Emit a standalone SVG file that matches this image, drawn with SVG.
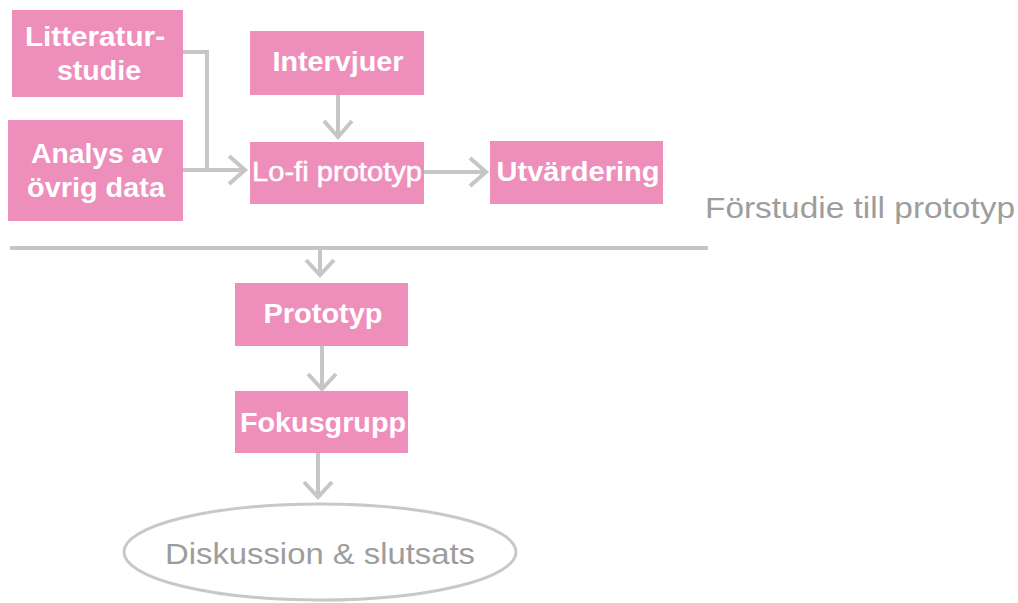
<svg xmlns="http://www.w3.org/2000/svg" width="1018" height="603" viewBox="0 0 1018 603">
<style>
.box{fill:#ee8fbb}
.t{font-family:"Liberation Sans",Arial,sans-serif;font-size:27px;font-weight:bold;fill:#fff;text-anchor:middle}
.tn{font-weight:normal}
.c{fill:none;stroke:#c6c6c6;stroke-width:4}
.g{font-family:"Liberation Sans",Arial,sans-serif;font-size:30px;fill:#9d9d9d}
</style>
<rect width="1018" height="603" fill="#fff"/>
<g id="connectors" class="c">
<polyline points="183,52 207,52 207,170"/>
<line x1="183" y1="170" x2="245" y2="170"/>
<polyline points="229,156 245,170 229,184"/>
<line x1="338" y1="95" x2="338" y2="137"/>
<polyline points="324,121 338,137 352,121"/>
<line x1="424" y1="172" x2="486" y2="172"/>
<polyline points="470,158 486,172 470,186"/>
<line x1="320" y1="248" x2="320" y2="275"/>
<polyline points="306,260 320,275 334,260"/>
<line x1="322" y1="346" x2="322" y2="389"/>
<polyline points="308,374 322,389 336,374"/>
<line x1="318" y1="453" x2="318" y2="497"/>
<polyline points="304,482 318,497 332,482"/>
</g>
<line id="divider" x1="10" y1="248" x2="708" y2="248" class="c"/>
<g id="litteratur"><rect class="box" x="12" y="10" width="171" height="87"/><text class="t" x="95" y="46" textLength="140" lengthAdjust="spacingAndGlyphs">Litteratur-</text><text class="t" x="99" y="80" textLength="84" lengthAdjust="spacingAndGlyphs">studie</text></g>
<g id="analys"><rect class="box" x="8" y="120" width="175" height="101"/><text class="t" x="97" y="163" textLength="132" lengthAdjust="spacingAndGlyphs">Analys av</text><text class="t" x="96" y="197" textLength="138" lengthAdjust="spacingAndGlyphs">övrig data</text></g>
<g id="intervjuer"><rect class="box" x="250" y="31" width="174" height="64"/><text class="t" x="338" y="71" textLength="131" lengthAdjust="spacingAndGlyphs">Intervjuer</text></g>
<g id="lofi"><rect class="box" x="250" y="142" width="174" height="62"/><text class="t tn" x="337" y="181" textLength="170" lengthAdjust="spacingAndGlyphs" style="stroke:#fff;stroke-width:0.5">Lo-fi prototyp</text></g>
<g id="utvardering"><rect class="box" x="490" y="141" width="173" height="63"/><text class="t" x="578" y="181" textLength="163" lengthAdjust="spacingAndGlyphs">Utvärdering</text></g>
<text id="phase" class="g" x="705" y="218" textLength="310" lengthAdjust="spacingAndGlyphs">Förstudie till prototyp</text>
<g id="prototyp"><rect class="box" x="235" y="283" width="173" height="63"/><text class="t" x="323" y="323" textLength="119" lengthAdjust="spacingAndGlyphs">Prototyp</text></g>
<g id="fokusgrupp"><rect class="box" x="235" y="391" width="173" height="62"/><text class="t" x="323" y="432" textLength="166" lengthAdjust="spacingAndGlyphs">Fokusgrupp</text></g>
<g id="diskussion"><ellipse cx="320" cy="552" rx="196" ry="48" fill="none" stroke="#c8c8c8" stroke-width="3"/><text class="g" x="320" y="564" text-anchor="middle" textLength="310" lengthAdjust="spacingAndGlyphs">Diskussion &amp; slutsats</text></g>
</svg>
